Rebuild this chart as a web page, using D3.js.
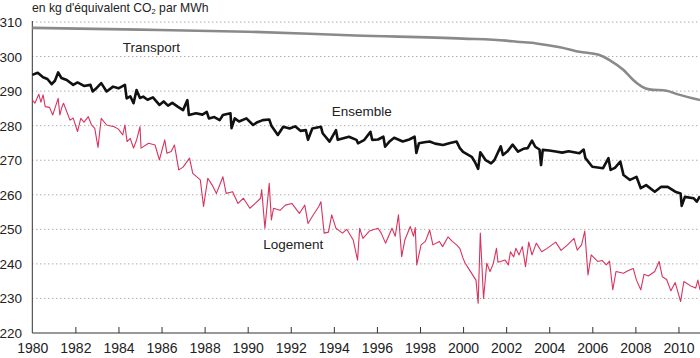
<!DOCTYPE html>
<html><head><meta charset="utf-8">
<script src="https://cdn.jsdelivr.net/npm/d3@7"></script>
<style>
body{margin:0;background:#fff;}
svg{display:block;font-family:"Liberation Sans",Arial,Helvetica,sans-serif;}
</style></head>
<body><svg id="c" width="700" height="358"></svg>
<script>
const yTicks = [220,230,240,250,260,270,280,290,300,310];
const xTicks = [1980,1982,1984,1986,1988,1990,1992,1994,1996,1998,2000,2002,2004,2006,2008,2010];
const seriesNames = ["Transport","Ensemble","Logement"];

const transport = [[1980,308.3],[1985,307.8],[1990,307.2],[1995,306.1],[2000,305.2],[2002,304.6],[2002.5,304.3],[2003.4,303.8],[2004.5,302.7],[2005.4,301.4],[2006.3,300.5],[2006.8,299],[2007.45,296.1],[2007.9,293.2],[2008.3,291.3],[2008.65,290.5],[2009.45,290.1],[2009.9,289.2],[2011,287.4]];

const ensemble = [[1980.0,294.7],[1980.25,295.3],[1980.5,294],[1980.7,293.5],[1980.9,292],[1981.05,293],[1981.2,295.4],[1981.35,293.8],[1981.6,293.2],[1981.9,291.8],[1982.1,292.5],[1982.4,291.5],[1982.7,291.8],[1982.8,289.9],[1983.0,291],[1983.2,292.3],[1983.45,289.9],[1983.75,291.3],[1984.0,290.8],[1984.3,291.8],[1984.38,287.9],[1984.55,288.5],[1984.7,286.5],[1984.84,290.3],[1985.0,288],[1985.15,288.4],[1985.35,287.5],[1985.6,288.2],[1985.9,286],[1986.1,287],[1986.3,285.8],[1986.5,286.6],[1986.75,285.5],[1987.0,284.5],[1987.2,287.4],[1987.27,283.1],[1987.6,283.6],[1987.9,283.2],[1988.1,284],[1988.2,282.1],[1988.45,282.5],[1988.7,281.6],[1988.85,283.1],[1989.2,283.6],[1989.25,279.3],[1989.4,282.1],[1989.6,281.2],[1989.94,282.1],[1990.25,280.2],[1990.45,281],[1990.7,281.6],[1991.0,281.8],[1991.1,280],[1991.4,277.3],[1991.65,279.7],[1991.95,279.2],[1992.2,279.8],[1992.45,278.5],[1992.7,278.7],[1992.8,275.9],[1993.0,279.2],[1993.4,279.7],[1993.48,277.8],[1993.8,275.4],[1994.1,278.7],[1994.18,275.9],[1994.4,276.3],[1994.7,276.8],[1995.05,275.9],[1995.12,274.9],[1995.4,275.8],[1995.7,278.2],[1995.78,275.9],[1996.05,276],[1996.3,276.8],[1996.38,273.9],[1996.6,275.5],[1996.8,276.5],[1997.2,275.4],[1997.5,276],[1997.75,276.8],[1997.83,272.1],[1997.95,274.9],[1998.2,275.2],[1998.45,275.4],[1998.7,274.8],[1999.07,274.4],[1999.4,275],[1999.7,275.4],[1999.85,273.5],[2000.0,272.4],[2000.4,271],[2000.55,269.5],[2000.7,267.5],[2000.8,272.3],[2001.05,270],[2001.3,269.1],[2001.45,270],[2001.75,274],[2001.85,271.5],[2002.05,272.5],[2002.3,274.5],[2002.55,272.5],[2002.8,273.3],[2003.0,273.5],[2003.2,275.7],[2003.35,273.9],[2003.55,273.1],[2003.62,268.6],[2003.7,273],[2004.0,272.8],[2004.3,272.5],[2004.6,272.2],[2004.9,272.6],[2005.15,272.3],[2005.4,272],[2005.6,273.1],[2005.68,270.6],[2006.0,268.1],[2006.5,267.7],[2006.75,270.6],[2006.85,267.2],[2007.05,267.8],[2007.3,269.6],[2007.45,265.7],[2007.75,264.3],[2008.05,265.2],[2008.25,261.9],[2008.5,262.8],[2008.9,260.9],[2009.2,262.3],[2009.5,262.3],[2009.85,260.9],[2010.1,260.4],[2010.15,256.8],[2010.3,259.4],[2010.7,259],[2010.85,258],[2011.0,259.6]];

const logement = [[1980.0,287.4],[1980.12,286.5],[1980.3,289.1],[1980.4,286.8],[1980.5,288.9],[1980.6,285.5],[1980.8,285.3],[1980.95,283.1],[1981.2,287.9],[1981.28,283.1],[1981.38,285.5],[1981.45,286.5],[1981.75,281.6],[1981.9,282.2],[1982.1,278.3],[1982.25,282.1],[1982.4,281],[1982.6,282.6],[1982.75,280.2],[1982.9,279.2],[1983.05,273.7],[1983.2,282.1],[1983.45,280.2],[1983.8,279.7],[1984.0,279],[1984.2,277.3],[1984.3,280.2],[1984.4,275.4],[1984.55,276.3],[1984.7,273.5],[1984.85,276],[1985.0,279.7],[1985.05,273.5],[1985.4,274.9],[1985.7,274.4],[1985.9,270.1],[1986.15,275.9],[1986.25,272],[1986.45,272.5],[1986.6,274.4],[1986.8,267.2],[1987.0,268],[1987.3,270.6],[1987.45,266.2],[1987.8,264.3],[1987.95,256.6],[1988.15,264.8],[1988.35,262.8],[1988.55,260.4],[1988.85,265.2],[1989.0,260.4],[1989.3,260.9],[1989.55,257.5],[1989.8,259],[1990.1,256.1],[1990.35,257.5],[1990.6,259],[1990.65,261.5],[1990.8,250.3],[1991.0,263.3],[1991.1,252.7],[1991.2,256.1],[1991.5,255.5],[1991.75,257],[1992.05,257.5],[1992.4,254.6],[1992.65,257],[1992.8,251.7],[1993.05,254.2],[1993.3,256.6],[1993.4,258],[1993.55,248.9],[1993.75,249.2],[1993.9,254.2],[1994.1,250.3],[1994.4,248.9],[1994.6,250],[1994.9,246.9],[1995.1,241.1],[1995.2,250.3],[1995.35,247.4],[1995.65,249.5],[1996.05,250.3],[1996.2,248.9],[1996.4,246],[1996.7,250.3],[1996.85,248],[1997.0,254.2],[1997.15,242.1],[1997.3,247],[1997.55,250.8],[1997.7,248],[1997.78,250.5],[1997.85,239.7],[1998.05,245.5],[1998.25,246.5],[1998.45,249.8],[1998.6,245.5],[1998.9,246.5],[1999.05,245],[1999.3,247.8],[1999.5,246.5],[1999.7,245.5],[1999.85,244.5],[2000.0,241.6],[2000.1,240.2],[2000.25,238.7],[2000.6,235.3],[2000.7,228.6],[2000.8,248.9],[2000.95,230],[2001.1,240.2],[2001.25,237.8],[2001.4,240],[2001.55,244.5],[2001.62,240.5],[2001.95,241.1],[2002.1,239.7],[2002.2,243.5],[2002.35,242],[2002.45,244.5],[2002.6,242.6],[2002.75,245],[2002.9,239.2],[2003.05,246.3],[2003.2,242.6],[2003.4,246],[2003.65,243.5],[2003.9,244.5],[2004.3,246.3],[2004.55,243.9],[2004.85,245.5],[2005.15,247.4],[2005.3,244],[2005.5,245.5],[2005.65,249.5],[2005.8,236.8],[2005.95,242.6],[2006.25,240.7],[2006.45,241],[2006.65,239.7],[2006.8,240.8],[2006.95,232.5],[2007.1,237.8],[2007.45,237.3],[2007.65,238],[2007.9,238.7],[2008.05,235.3],[2008.25,232.5],[2008.4,237],[2008.6,236.5],[2008.9,237.8],[2009.1,240.7],[2009.25,236.3],[2009.45,235.5],[2009.65,232.2],[2009.85,234.6],[2010.1,229.1],[2010.25,234.9],[2010.6,233.5],[2010.8,233],[2010.9,235.3],[2011.0,232.5]];

const svg = d3.select("#c");
const x = d3.scaleLinear().domain([1980, 2011]).range([32.3, 700]);
const y = d3.scaleLinear().domain([220, 310]).range([333, 22]);

// gridlines
svg.append("g").selectAll("line").data(yTicks.filter(t => t > 220)).join("line")
  .attr("x1", x(1980)).attr("x2", 700)
  .attr("y1", d => y(d)).attr("y2", d => y(d))
  .attr("stroke", "#888").attr("stroke-width", 1)
  .attr("stroke-dasharray", "1,3");

// y labels
svg.append("g").selectAll("text").data(yTicks).join("text")
  .attr("x", 22).attr("y", d => y(d) + 5)
  .attr("text-anchor", "end").attr("font-size", 13.5).attr("fill", "#222")
  .text(d => d);

// x axis
const xAxis = d3.axisBottom(x).tickValues(xTicks).tickSize(-6).tickFormat(d3.format("d")).tickPadding(10);
const gx = svg.append("g").attr("transform", `translate(0,${y(220)})`).call(xAxis);
gx.select(".domain").attr("stroke", "#333").attr("d", `M${x(1980)},0H700`);
gx.selectAll(".tick line").attr("stroke", "#333");
gx.selectAll(".tick text").attr("font-size", 14).attr("fill", "#222")
  .attr("font-family", '"Liberation Sans",Arial,sans-serif');
gx.selectAll(".tick").filter(d => d === 1980).select("line").remove();

// y axis line
svg.append("line").attr("x1", x(1980)).attr("x2", x(1980))
  .attr("y1", y(310) - 1).attr("y2", y(220)).attr("stroke", "#333");

const line = d3.line().x(d => x(d[0])).y(d => y(d[1]));

svg.append("path").datum(transport).attr("d", line.curve(d3.curveMonotoneX))
  .attr("fill", "none").attr("stroke", "#8a8a8a").attr("stroke-width", 2.6);
const line2 = d3.line().x(d => x(d[0])).y(d => y(d[1]));
svg.append("path").datum(logement).attr("d", line2)
  .attr("fill", "none").attr("stroke", "#d8345f").attr("stroke-width", 1.1).attr("stroke-linejoin", "round");
svg.append("path").datum(ensemble).attr("d", line2)
  .attr("fill", "none").attr("stroke", "#111").attr("stroke-width", 2.6).attr("stroke-linejoin", "round");

// series labels
const lab = [[seriesNames[0], 1984.2, 51.5], [seriesNames[1], 1993.9, 115.5], [seriesNames[2], 1990.72, 249]];
svg.append("g").selectAll("text").data(lab).join("text")
  .attr("x", d => x(d[1])).attr("y", d => d[2])
  .attr("font-size", 13.5).attr("fill", "#222").text(d => d[0]);

// title
const t = svg.append("text").attr("x", 32).attr("y", 12).attr("font-size", 12.2).attr("fill", "#222");
t.append("tspan").text("en kg d'équivalent CO");
t.append("tspan").attr("font-size", 7.5).attr("dy", 2).text("2");
t.append("tspan").attr("dy", -2).text(" par MWh");
</script></body></html>
